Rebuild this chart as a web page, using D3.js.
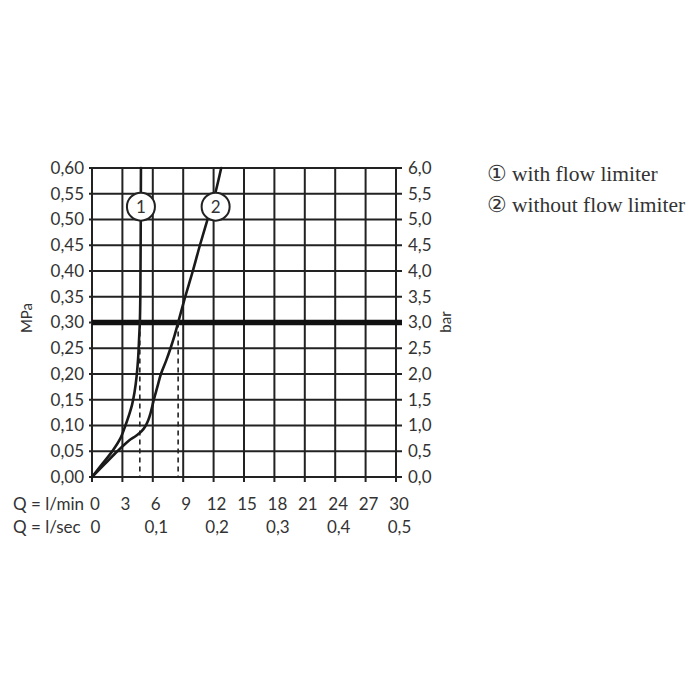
<!DOCTYPE html>
<html>
<head>
<meta charset="utf-8">
<script src="https://cdn.jsdelivr.net/npm/d3@7/dist/d3.min.js"></script>
<style>
  html, body { margin: 0; padding: 0; background: #fff; }
  svg { display: block; }
</style>
</head>
<body>
<svg id="chart" width="700" height="700"></svg>
<script>
// ---- data ----
const flowTicks = [0, 3, 6, 9, 12, 15, 18, 21, 24, 27, 30];
const lminLabels = ["0", "3", "6", "9", "12", "15", "18", "21", "24", "27", "30"];
const lsecTicks = [0, 6, 12, 18, 24, 30];
const lsecLabels = ["0", "0,1", "0,2", "0,3", "0,4", "0,5"];
const pressureTicks = [0, 0.05, 0.10, 0.15, 0.20, 0.25, 0.30, 0.35, 0.40, 0.45, 0.50, 0.55, 0.60];
const mpaLabels = ["0,00", "0,05", "0,10", "0,15", "0,20", "0,25", "0,30", "0,35", "0,40", "0,45", "0,50", "0,55", "0,60"];
const barLabels = ["0,0", "0,5", "1,0", "1,5", "2,0", "2,5", "3,0", "3,5", "4,0", "4,5", "5,0", "5,5", "6,0"];

// curve 1: with flow limiter  (flow l/min, pressure MPa)
const curve1Flow = [0, 1.0, 2.0, 2.8, 3.3, 3.65, 3.95, 4.2, 4.4, 4.55, 4.65, 4.72, 4.77, 4.8, 4.83];
const curve1Pres = [0, 0.025, 0.05, 0.075, 0.10, 0.12, 0.14, 0.165, 0.195, 0.23, 0.27, 0.30, 0.35, 0.45, 0.60];
// curve 2: without flow limiter
const curve2Flow = [0, 1.25, 2.5, 3.6, 4.35, 4.9, 5.28, 5.55, 5.75, 5.93, 6.1, 6.45, 6.8, 7.3, 7.75, 8.15, 8.5, 9.2, 9.95, 10.65, 11.4, 12.15, 12.75];
const curve2Pres = [0, 0.025, 0.05, 0.07, 0.08, 0.089, 0.099, 0.11, 0.122, 0.136, 0.15, 0.175, 0.20, 0.225, 0.25, 0.275, 0.30, 0.35, 0.40, 0.45, 0.50, 0.55, 0.60];

const refPressure = 0.30;
const dashFlows = [4.72, 8.5];
const markerLabels = ["1", "2"];
const markerFlow = [4.83, 12.2];
const markerPres = [0.525, 0.525];
const legendMarks = ["\u2460", "\u2461"];
const legendItems = ["with flow limiter", "without flow limiter"];

// ---- layout ----
const svg = d3.select("#chart");
const x = d3.scaleLinear().domain([0, 30]).range([92, 396]);
const y = d3.scaleLinear().domain([0, 0.6]).range([477, 168]);
const ink = "#222";
const textCol = "#333";
const sansFont = "Lato, 'DejaVu Sans', sans-serif";
const serifFont = "'Liberation Serif', 'Times New Roman', serif";

// grid
const g = svg.append("g");
g.selectAll("line.v").data(flowTicks).join("line")
  .attr("x1", d => x(d)).attr("x2", d => x(d))
  .attr("y1", y(0.6)).attr("y2", y(0) + 5)
  .attr("stroke", ink).attr("stroke-width", 2);
g.selectAll("line.h").data(pressureTicks).join("line")
  .attr("x1", x(0) - 3).attr("x2", x(30) + 6)
  .attr("y1", d => y(d)).attr("y2", d => y(d))
  .attr("stroke", ink).attr("stroke-width", 2);

// heavy reference line
g.append("line")
  .attr("x1", x(0)).attr("x2", x(30) + 6)
  .attr("y1", y(refPressure)).attr("y2", y(refPressure))
  .attr("stroke", "#111").attr("stroke-width", 5.5);

// dashed drop lines
g.selectAll("line.dash").data(dashFlows).join("line")
  .attr("x1", d => x(d)).attr("x2", d => x(d))
  .attr("y1", y(refPressure)).attr("y2", y(0))
  .attr("stroke", ink).attr("stroke-width", 1.6)
  .attr("stroke-dasharray", "5,4");

// curves
const line = d3.line().x(d => x(d[0])).y(d => y(d[1])).curve(d3.curveCatmullRom.alpha(0.5));
const c1 = curve1Flow.map((f, i) => [f, curve1Pres[i]]);
const c2 = curve2Flow.map((f, i) => [f, curve2Pres[i]]);
[c1, c2].forEach(c => {
  g.append("path").attr("d", line(c)).attr("fill", "none")
    .attr("stroke", "#1a1a1a").attr("stroke-width", 2.6).attr("stroke-linecap", "round");
});

// circle markers
const mk = g.selectAll("g.mk").data(markerLabels).join("g")
  .attr("transform", (d, i) => `translate(${x(markerFlow[i])},${y(markerPres[i])})`);
mk.append("circle").attr("r", 14).attr("fill", "#fff").attr("stroke", ink).attr("stroke-width", 2);
mk.append("text").text(d => d).attr("text-anchor", "middle").attr("dy", "0.36em")
  .attr("font-family", sansFont).attr("font-size", 17).attr("fill", textCol);

const fs = 17;
// left labels
g.selectAll("text.l").data(pressureTicks).join("text")
  .attr("x", 84).attr("y", d => y(d)).attr("dy", "0.35em")
  .attr("text-anchor", "end").attr("font-family", sansFont).attr("font-size", fs)
  .attr("fill", textCol).text((d, i) => mpaLabels[i]);
// right labels
g.selectAll("text.r").data(pressureTicks).join("text")
  .attr("x", 408).attr("y", d => y(d)).attr("dy", "0.35em")
  .attr("text-anchor", "start").attr("font-family", sansFont).attr("font-size", fs)
  .attr("fill", textCol).text((d, i) => barLabels[i]);
// bottom labels
g.selectAll("text.b1").data(flowTicks).join("text")
  .attr("x", d => x(d) + 3).attr("y", 510)
  .attr("text-anchor", "middle").attr("font-family", sansFont).attr("font-size", fs)
  .attr("fill", textCol).text((d, i) => lminLabels[i]);
g.selectAll("text.b2").data(lsecTicks).join("text")
  .attr("x", d => x(d) + 3.5).attr("y", 533)
  .attr("text-anchor", "middle").attr("font-family", sansFont).attr("font-size", fs)
  .attr("fill", textCol).text((d, i) => lsecLabels[i]);
g.append("text").attr("x", 13).attr("y", 510).attr("font-family", sansFont).attr("font-size", fs)
  .attr("fill", textCol).text("Q = l/min");
g.append("text").attr("x", 13).attr("y", 533).attr("font-family", sansFont).attr("font-size", fs)
  .attr("fill", textCol).text("Q = l/sec");

// axis titles
g.append("text").attr("transform", "translate(32,318) rotate(-90)")
  .attr("text-anchor", "middle").attr("font-family", sansFont).attr("font-size", 15)
  .attr("fill", textCol).text("MPa");
g.append("text").attr("transform", "translate(451,322) rotate(-90)")
  .attr("text-anchor", "middle").attr("font-family", sansFont).attr("font-size", 15)
  .attr("fill", textCol).text("bar");

// legend
g.selectAll("text.legm").data(legendMarks).join("text")
  .attr("x", 497).attr("y", (d, i) => 181 + i * 31).attr("text-anchor", "middle")
  .attr("font-family", serifFont).attr("font-size", 22)
  .attr("fill", textCol).text(d => d);
g.selectAll("text.leg").data(legendItems).join("text")
  .attr("x", 512).attr("y", (d, i) => 181 + i * 31)
  .attr("font-family", serifFont).attr("font-size", 21.5)
  .attr("fill", textCol).text(d => d);
</script>
</body>
</html>
